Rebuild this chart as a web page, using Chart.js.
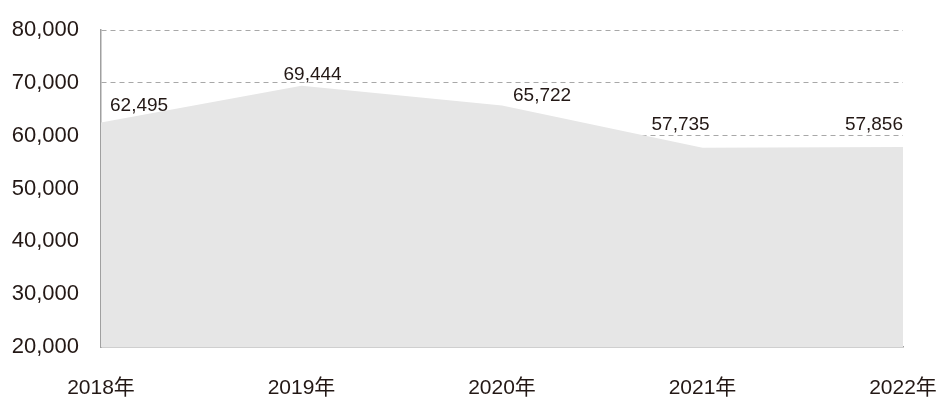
<!DOCTYPE html>
<html>
<head>
<meta charset="utf-8">
<script src="https://cdn.jsdelivr.net/npm/chart.js@4"></script>
<style>
  html, body { margin: 0; padding: 0; background: #fff; }
  #wrap { width: 945px; height: 400px; }
</style>
</head>
<body>
<div id="wrap"><canvas id="chart"></canvas></div>
<script>
// --- data ---
const years = ['2018年', '2019年', '2020年', '2021年', '2022年'];
const values = [62495, 69444, 65722, 57735, 57856];
const yTicks = [20000, 30000, 40000, 50000, 60000, 70000, 80000];

// label placement relative to each point (px): dx, dy, align
const labelPos = [
  { dx: 9, dy: -17, align: 'left' },
  { dx: -18, dy: -11, align: 'left' },
  { dx: 11, dy: -10, align: 'left' },
  { dx: -51, dy: -23, align: 'left' },
  { dx: 0, dy: -22, align: 'right' }
];

const textColor = '#231815';
const fontFamily = '"Liberation Sans", Arial, "Noto Sans CJK JP", sans-serif';

// draws the value text above each point
const valueLabels = {
  id: 'valueLabels',
  afterDatasetsDraw(chart) {
    const ctx = chart.ctx;
    const meta = chart.getDatasetMeta(0);
    ctx.save();
    ctx.font = '19px ' + fontFamily;
    ctx.fillStyle = textColor;
    ctx.textBaseline = 'middle';
    meta.data.forEach((pt, i) => {
      const p = labelPos[i];
      ctx.textAlign = p.align;
      ctx.fillText(values[i].toLocaleString('en-US'), pt.x + p.dx, pt.y + p.dy);
    });
    ctx.restore();
  }
};

new Chart(document.getElementById('chart'), {
  type: 'line',
  data: {
    labels: years,
    datasets: [{
      data: values,
      fill: 'start',
      backgroundColor: '#e6e6e6',
      borderWidth: 0,
      pointRadius: 0,
      tension: 0
    }]
  },
  options: {
    responsive: true,
    maintainAspectRatio: false,
    animation: false,
    layout: { padding: { left: 0, right: 42, top: 30, bottom: 0 } },
    plugins: { legend: { display: false }, tooltip: { enabled: false } },
    scales: {
      x: {
        offset: false,
        grid: { display: false, drawTicks: false },
        border: { display: true, color: '#a0a0a0', width: 1.5 },
        ticks: {
          color: textColor,
          font: { family: fontFamily, size: 21 },
          padding: 29,
          maxRotation: 0,
          autoSkip: false
        },
        afterFit(scale) {
          scale.height = 53;
          scale.paddingLeft = 0;
          scale.paddingRight = 0;
        }
      },
      y: {
        min: 20000,
        max: 80000,
        afterBuildTicks(scale) { scale.ticks = yTicks.map(v => ({ value: v })); },
        grid: {
          color: (c) => (c.tick && c.tick.value === 20000) ? 'rgba(0,0,0,0)' : '#a8a8a8',
          lineWidth: 1,
          drawTicks: false
        },
        border: { display: true, color: '#a0a0a0', width: 1.5, dash: [5, 4] },
        ticks: {
          color: textColor,
          font: { family: fontFamily, size: 22 },
          padding: 22,
          callback: (v) => v.toLocaleString('en-US')
        },
        afterFit(scale) {
          scale.width = 101;
          scale.paddingTop = 0;
          scale.paddingBottom = 0;
        }
      }
    }
  },
  plugins: [valueLabels]
});
</script>
</body>
</html>
